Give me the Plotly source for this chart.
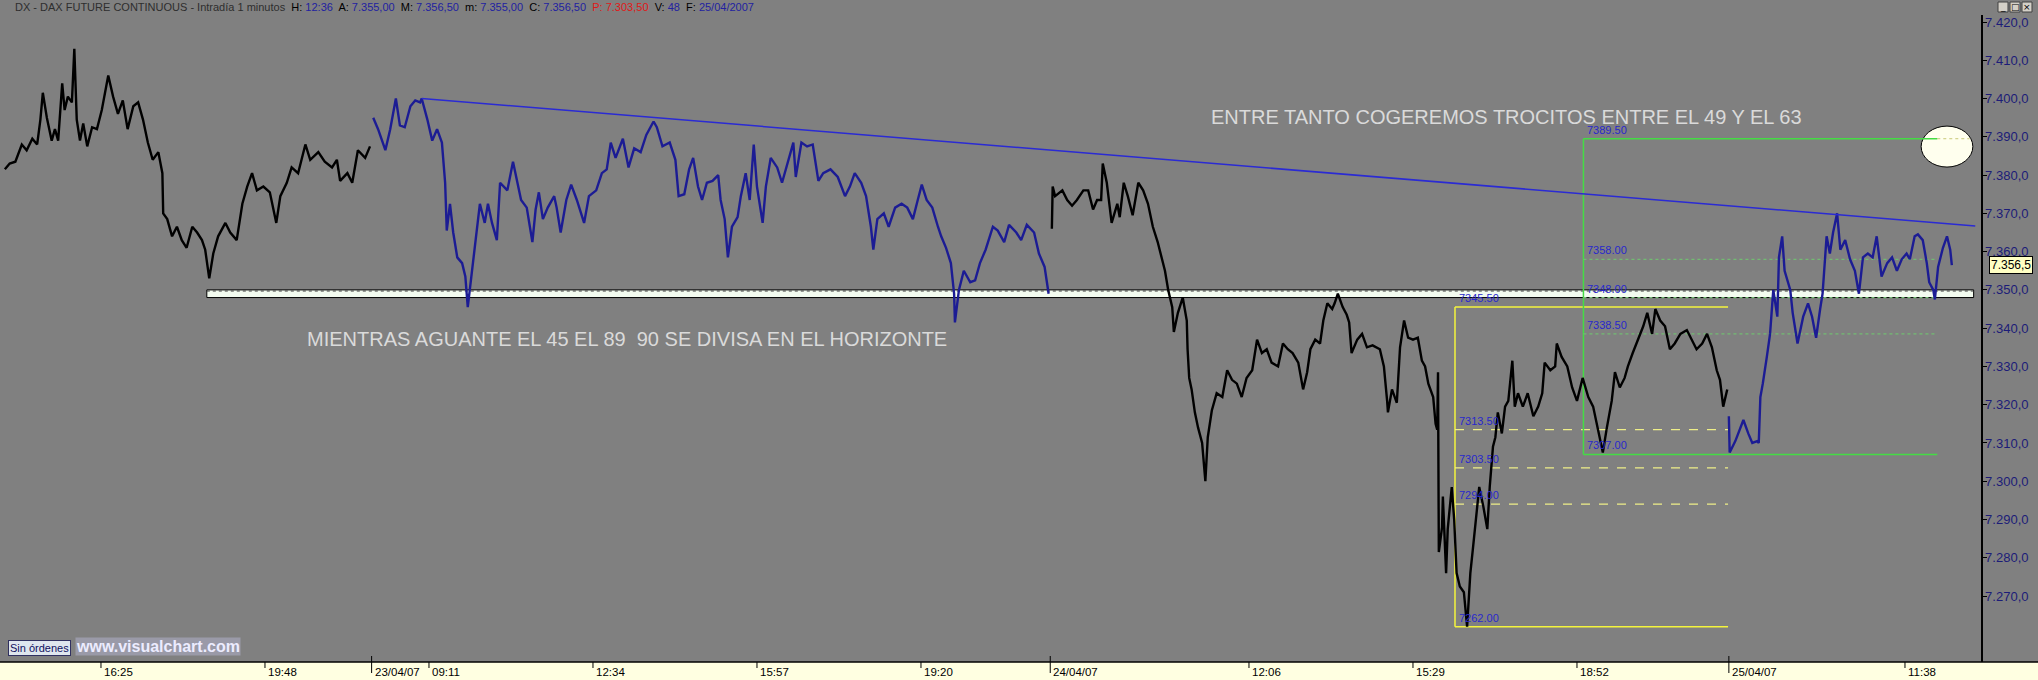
import plotly.graph_objects as go

# ---------------- data ----------------
SESSION_BARS = 840  # one-minute bars per session (08:00-22:00)

# global bar index = session * 840 + minutes since 08:00 (20/04 = session 0)
bars_20apr = [386, 392, 399, 407, 413, 420, 426, 430, 433, 438, 444, 448, 452, 457, 460, 464, 469, 472, 475, 479,
              483, 488, 494, 500, 506, 514, 520, 526, 532, 538, 545, 551, 557, 563, 569, 576, 581, 582, 587, 593,
              599, 605, 611, 618, 624, 630, 634, 639, 644, 650, 659, 665, 673, 680, 686, 692, 698, 706, 714, 722,
              727, 735, 741, 749, 758, 764, 774, 782, 791, 797, 801, 810, 816, 823, 832, 838]
close_20apr = [7381.5, 7383.0, 7383.5, 7388.0, 7386.5, 7389.5, 7388.0, 7394.5, 7401.5, 7395.0, 7389.0, 7392.0,
               7389.0, 7404.0, 7397.0, 7400.5, 7399.0, 7413.0, 7394.5, 7389.0, 7393.5, 7387.5, 7392.5, 7392.0,
               7397.0, 7406.0, 7400.5, 7396.0, 7399.5, 7392.0, 7398.0, 7399.0, 7394.5, 7388.5, 7384.0, 7386.0,
               7380.5, 7370.0, 7368.5, 7364.0, 7366.5, 7363.0, 7361.0, 7366.5, 7365.0, 7363.0, 7360.5, 7353.0,
               7359.5, 7364.0, 7367.5, 7365.0, 7363.0, 7372.5, 7377.0, 7380.5, 7376.0, 7377.0, 7375.5, 7367.5,
               7374.5, 7378.0, 7382.0, 7380.5, 7388.0, 7384.0, 7386.0, 7383.5, 7382.0, 7384.0, 7378.5, 7380.5,
               7378.0, 7386.5, 7384.5, 7387.5]

bars_23apr = [842, 848, 857, 863, 870, 875, 881, 888, 894, 900, 902, 909, 915, 921, 927, 931, 933, 937, 941, 946,
              952, 956, 959, 964, 968, 974, 980, 984, 989, 995, 999, 1008, 1015, 1021, 1025, 1032, 1039, 1043, 1047,
              1052, 1058, 1066, 1069, 1074, 1081, 1087, 1094, 1103, 1109, 1118, 1125, 1131, 1136, 1142, 1151, 1158,
              1165, 1173, 1180, 1189, 1193, 1200, 1209, 1216, 1220, 1227, 1233, 1238, 1244, 1249, 1255, 1262, 1269,
              1272, 1277, 1281, 1286, 1293, 1297, 1303, 1308, 1313, 1317, 1324, 1328, 1334, 1342, 1348, 1355, 1362,
              1365, 1372, 1379, 1386, 1393, 1399, 1408, 1417, 1426, 1432, 1438, 1446, 1452, 1458, 1461, 1466, 1474,
              1480, 1488, 1496, 1503, 1510, 1516, 1521, 1527, 1534, 1541, 1545, 1551, 1557, 1561, 1562, 1567, 1573,
              1581, 1587, 1593, 1600, 1609, 1615, 1623, 1629, 1638, 1644, 1651, 1660, 1666, 1673, 1678]
close_23apr = [7395.0, 7392.0, 7386.5, 7392.0, 7400.0, 7393.0, 7392.5, 7398.0, 7399.5, 7399.0, 7400.0, 7394.5,
               7389.0, 7392.0, 7388.5, 7378.0, 7365.5, 7372.5, 7365.0, 7358.5, 7357.0, 7353.5, 7345.5, 7355.0,
               7361.0, 7372.5, 7367.5, 7372.5, 7367.5, 7363.0, 7378.0, 7376.0, 7383.5, 7377.0, 7373.5, 7371.5,
               7362.5, 7371.0, 7375.5, 7368.5, 7371.5, 7374.5, 7371.5, 7365.0, 7373.5, 7377.5, 7373.5, 7367.5,
               7374.5, 7376.0, 7380.5, 7381.5, 7388.5, 7384.5, 7389.5, 7382.0, 7387.0, 7386.0, 7390.5, 7394.0,
               7392.5, 7387.5, 7388.5, 7384.0, 7374.5, 7375.0, 7381.5, 7384.5, 7377.0, 7373.5, 7378.0, 7378.5,
               7380.0, 7373.5, 7368.5, 7358.5, 7366.5, 7369.0, 7374.5, 7380.5, 7373.5, 7388.0, 7377.0, 7367.5,
               7377.0, 7384.5, 7382.0, 7378.0, 7383.0, 7388.5, 7379.5, 7388.5, 7387.5, 7388.0, 7378.5, 7380.5,
               7381.5, 7379.5, 7374.5, 7377.0, 7380.5, 7378.0, 7374.5, 7366.5, 7360.5, 7368.5, 7370.0, 7366.5,
               7371.5, 7372.5, 7371.5, 7368.5, 7373.5, 7377.5, 7373.5, 7371.5, 7366.5, 7364.0, 7361.0, 7357.0,
               7349.0, 7341.5, 7350.0, 7355.0, 7352.0, 7352.5, 7357.0, 7360.5, 7366.5, 7365.5, 7362.5, 7367.0,
               7365.0, 7363.0, 7367.0, 7365.0, 7359.5, 7356.0, 7349.0]

bars_24apr = [1682, 1683, 1686, 1695, 1701, 1707, 1713, 1721, 1727, 1733, 1738, 1743, 1745, 1750, 1756, 1763, 1766,
              1771, 1776, 1782, 1789, 1795, 1801, 1807, 1813, 1818, 1822, 1826, 1831, 1833, 1838, 1844, 1849, 1850,
              1852, 1855, 1859, 1863, 1868, 1872, 1875, 1880, 1886, 1893, 1899, 1905, 1911, 1917, 1923, 1930, 1936,
              1942, 1948, 1954, 1962, 1968, 1974, 1980, 1987, 1993, 1998, 2002, 2008, 2014, 2018, 2023, 2029, 2032,
              2036, 2042, 2047, 2050, 2053, 2060, 2066, 2072, 2079, 2088, 2093, 2097, 2098, 2103, 2109, 2113, 2118,
              2123, 2129, 2135, 2140, 2144, 2148, 2154, 2157, 2159, 2160, 2161, 2165, 2166, 2170, 2172, 2177, 2180,
              2183, 2187, 2192, 2196, 2200, 2203, 2208, 2211, 2216, 2221, 2224, 2228, 2231, 2234, 2239, 2243, 2247,
              2252, 2255, 2259, 2265, 2271, 2278, 2284, 2289, 2292, 2299, 2305, 2307, 2313, 2320, 2326, 2332, 2336,
              2339, 2346, 2352, 2358, 2364, 2369, 2375, 2379, 2385, 2391, 2395, 2401, 2408, 2414, 2419, 2425, 2429,
              2435, 2441, 2447, 2453, 2460, 2468, 2474, 2480, 2487, 2493, 2499, 2505, 2509, 2513, 2518]
close_24apr = [7366.0, 7377.0, 7374.5, 7376.0, 7373.5, 7372.0, 7373.5, 7376.0, 7376.0, 7371.0, 7373.5, 7373.5,
               7383.0, 7378.0, 7367.5, 7372.5, 7369.0, 7378.0, 7374.5, 7369.5, 7378.0, 7376.0, 7372.5, 7366.5,
               7362.5, 7358.5, 7355.0, 7350.0, 7345.5, 7339.0, 7344.0, 7348.0, 7342.0, 7334.5, 7327.0, 7324.0,
               7318.0, 7314.0, 7310.0, 7300.0, 7311.5, 7318.5, 7323.0, 7322.0, 7329.0, 7326.5, 7325.5, 7322.0,
               7327.0, 7329.0, 7337.0, 7333.5, 7334.5, 7331.0, 7330.0, 7336.0, 7334.5, 7333.5, 7331.0, 7324.0,
               7328.5, 7334.5, 7337.0, 7336.0, 7342.0, 7346.5, 7345.0, 7346.5, 7349.0, 7345.5, 7343.5, 7341.5,
               7333.5, 7337.0, 7338.5, 7335.0, 7335.5, 7334.5, 7330.0, 7321.0, 7318.0, 7324.0, 7320.5, 7335.0,
               7342.0, 7337.5, 7337.0, 7337.5, 7331.5, 7330.0, 7325.5, 7322.0, 7315.0, 7313.5, 7328.5, 7281.5,
               7288.0, 7296.0, 7276.0, 7287.5, 7298.5, 7290.0, 7276.0, 7272.5, 7271.0, 7262.0, 7276.0, 7282.0,
               7292.5, 7298.5, 7293.5, 7287.5, 7298.5, 7309.0, 7311.5, 7318.0, 7312.5, 7319.5, 7321.0, 7331.5,
               7319.5, 7323.0, 7319.5, 7323.0, 7317.0, 7319.5, 7323.0, 7331.0, 7329.0, 7330.0, 7336.0, 7332.5,
               7330.0, 7324.5, 7321.0, 7324.5, 7327.0, 7322.0, 7319.5, 7313.5, 7307.5, 7314.0, 7321.0, 7328.5,
               7324.5, 7327.0, 7330.0, 7333.5, 7337.5, 7340.5, 7344.0, 7338.5, 7345.0, 7342.0, 7340.5, 7334.5,
               7336.0, 7338.5, 7339.5, 7337.0, 7334.5, 7336.0, 7338.5, 7335.0, 7329.0, 7326.5, 7319.5, 7324.0]

bars_25apr = [2520, 2521, 2528, 2534, 2538, 2544, 2549, 2555, 2557, 2559, 2562, 2567, 2571, 2575, 2580, 2582, 2586,
              2589, 2596, 2599, 2605, 2612, 2618, 2623, 2628, 2633, 2636, 2641, 2645, 2649, 2654, 2658, 2664, 2670,
              2676, 2681, 2686, 2692, 2698, 2703, 2709, 2716, 2722, 2728, 2734, 2740, 2744, 2750, 2754, 2760, 2765,
              2768, 2773, 2775, 2779, 2785, 2790, 2794, 2796]
close_25apr = [7317.0, 7307.5, 7310.5, 7313.5, 7316.0, 7312.5, 7310.0, 7310.5, 7310.0, 7322.0, 7325.5, 7332.5,
               7338.5, 7350.0, 7343.0, 7358.5, 7364.0, 7355.0, 7350.0, 7344.0, 7336.0, 7343.0, 7346.5, 7343.0,
               7337.5, 7345.0, 7349.0, 7364.0, 7359.5, 7365.0, 7370.0, 7360.5, 7363.0, 7358.0, 7355.0, 7349.0,
               7358.5, 7359.5, 7358.5, 7364.0, 7353.5, 7357.0, 7358.5, 7355.0, 7358.0, 7359.5, 7358.0, 7364.0,
               7364.5, 7363.0, 7357.0, 7352.0, 7350.0, 7347.5, 7356.0, 7361.0, 7364.0, 7360.5, 7356.5]

session_colors = ["#000000", "#1c1c94", "#000000", "#1c1c94"]

# time axis
tick_days = [0, 0, 1, 1, 1, 1, 1, 2, 2, 2, 2, 3, 3]
tick_times = ["16:25", "19:48", "08:00", "09:11", "12:34", "15:57", "19:20", "08:00", "12:06", "15:29",
              "18:52", "08:00", "11:38"]
tick_labels = ["16:25", "19:48", "23/04/07", "09:11", "12:34", "15:57", "19:20", "24/04/07", "12:06", "15:29",
               "18:52", "25/04/07", "11:38"]

# price axis
price_ticks = [7270, 7280, 7290, 7300, 7310, 7320, 7330, 7340, 7350, 7360, 7370, 7380, 7390, 7400, 7410, 7420]
last_price = 7356.5

# drawn objects (prices / bars)
trend_bars = [902, 2825]
trend_prices = [7400.0, 7366.7]
band_bars = [636, 2823]
band_prices = [7348.0, 7350.0]
fib_yellow_bars = [2181, 2519]
fib_yellow_levels = [7345.5, 7313.5, 7303.5, 7294.0, 7262.0]
fib_green_bars = [2340, 2778]
fib_green_levels = [7389.5, 7358.0, 7348.0, 7338.5, 7307.0]

header_html = ('<span style="color:#2e2e2e">DX - DAX FUTURE CONTINUOUS - Intradía 1 minutos</span>'
               '  H: <span style="color:#2222a0">12:36</span>'
               '  A: <span style="color:#2222a0">7.355,00</span>'
               '  M: <span style="color:#2222a0">7.356,50</span>'
               '  m: <span style="color:#2222a0">7.355,00</span>'
               '  C: <span style="color:#2222a0">7.356,50</span>'
               '  <span style="color:#e01818">P: 7.303,50</span>'
               '  V: <span style="color:#2222a0">48</span>'
               '  F: <span style="color:#2222a0">25/04/2007</span>')
text_left = "MIENTRAS AGUANTE EL 45 EL 89  90 SE DIVISA EN EL HORIZONTE"
text_right = "ENTRE TANTO COGEREMOS TROCITOS ENTRE EL 49 Y EL 63"

# ---------------- layout geometry ----------------
W, H = 2038, 680
ML, MR, MT, MB = 0, 57, 15, 18
PW, PH = W - ML - MR, H - MT - MB
X_RANGE = [380, 2832.1]
Y_RANGE = [7252.77, 7421.83]
GRAY = "#808080"
SANS = "Liberation Sans, Arial, sans-serif"


def bar_index(day, hhmm):
    h, m = map(int, hhmm.split(":"))
    return day * SESSION_BARS + (h - 8) * 60 + m


def paper_x(xp):
    return (xp - ML) / PW


def paper_y(yp):
    return (H - MB - yp) / PH


fig = go.Figure()

for (b, c), col in zip([(bars_20apr, close_20apr), (bars_23apr, close_23apr),
                        (bars_24apr, close_24apr), (bars_25apr, close_25apr)], session_colors):
    assert len(b) == len(c)
    fig.add_trace(go.Scatter(x=b, y=c, mode="lines", line=dict(color=col, width=2.4),
                             hoverinfo="skip", showlegend=False))

fig.add_trace(go.Scatter(x=trend_bars, y=trend_prices, mode="lines",
                         line=dict(color="#2a2ad4", width=1.5), hoverinfo="skip", showlegend=False))

shapes = []
annotations = []

# bottom time strip
shapes.append(dict(type="rect", xref="paper", yref="paper", x0=-0.01, x1=paper_x(W) + 0.01,
                   y0=paper_y(H) - 0.01, y1=0, fillcolor="#ffffe1", line=dict(width=0), layer="below"))
shapes.append(dict(type="line", xref="paper", yref="paper", x0=0, x1=paper_x(W), y0=0, y1=0,
                   line=dict(color="#000000", width=1.5), layer="above"))

# support band
shapes.append(dict(type="rect", xref="x", yref="y", x0=band_bars[0], x1=band_bars[1],
                   y0=band_prices[0], y1=band_prices[1], fillcolor="#f2fbef",
                   line=dict(color="#000000", width=1), layer="below"))
shapes.append(dict(type="line", xref="x", yref="y", x0=band_bars[0], x1=band_bars[1],
                   y0=band_prices[1] - 0.3, y1=band_prices[1] - 0.3,
                   line=dict(color="#404040", width=1, dash="dot"), layer="below"))

# ellipse (drawn before the green box)
shapes.append(dict(type="circle", xref="x", yref="y", x0=2758, x1=2822, y0=7382.1, y1=7392.8,
                   fillcolor="#ffffee", line=dict(color="#000000", width=1), layer="below"))
shapes.append(dict(type="line", xref="x", yref="y", x0=fib_green_bars[1], x1=2818,
                   y0=fib_green_levels[0], y1=fib_green_levels[0],
                   line=dict(color="#c8c878", width=1, dash="dot"), layer="below"))


def fib_box(bars, levels, solid, dashed, dash):
    top, bottom = max(levels), min(levels)
    shapes.append(dict(type="line", xref="x", yref="y", x0=bars[0], x1=bars[0], y0=bottom, y1=top,
                       line=dict(color=solid, width=1.5), layer="below"))
    for i, lv in enumerate(levels):
        edge = i == 0 or i == len(levels) - 1
        shapes.append(dict(type="line", xref="x", yref="y", x0=bars[0], x1=bars[1], y0=lv, y1=lv,
                           line=dict(color=solid if edge else dashed, width=1.5 if edge else 1.2,
                                     dash="solid" if edge else dash), layer="below"))
        annotations.append(dict(x=bars[0], y=lv, xref="x", yref="y", xanchor="left", yanchor="bottom",
                                xshift=2, yshift=1, showarrow=False, text=f"{lv:.2f}",
                                font=dict(family=SANS, size=11, color="#2828cc")))


fib_box(fib_yellow_bars, fib_yellow_levels, "#f4f43c", "#eeee88", "dash")
fib_box(fib_green_bars, fib_green_levels, "#44dc44", "#72bc72", "dot")

# time ticks and labels
for d, t, lab in zip(tick_days, tick_times, tick_labels):
    xb = bar_index(d, t)
    is_date = "/" in lab
    shapes.append(dict(type="line", xref="x", yref="paper", x0=xb, x1=xb,
                       y0=paper_y(656 if is_date else 662), y1=paper_y(673 if is_date else 668),
                       line=dict(color="#000000", width=1), layer="above"))
    annotations.append(dict(x=xb, y=paper_y(672), xref="x", yref="paper", xanchor="left", yanchor="middle",
                            xshift=1, showarrow=False, text=lab,
                            font=dict(family=SANS, size=11.5, color="#000000")))

# header
annotations.append(dict(x=paper_x(13), y=paper_y(7), xref="paper", yref="paper", xanchor="left",
                        yanchor="middle", showarrow=False, text=header_html,
                        font=dict(family=SANS, size=11, color="#000000")))

# big comments
annotations.append(dict(x=757, y=7337.2, xref="x", yref="y", xanchor="left", yanchor="middle",
                        showarrow=False, text=text_left,
                        font=dict(family=SANS, size=20, color="#dadada")))
annotations.append(dict(x=1876, y=7394.1, xref="x", yref="y", xanchor="left", yanchor="middle",
                        yshift=4, showarrow=False, text=text_right,
                        font=dict(family=SANS, size=20, color="#dadada")))

# last price box
annotations.append(dict(x=paper_x(1989), y=last_price, xref="paper", yref="y", xanchor="left",
                        yanchor="middle", showarrow=False, text="7.356,5", bgcolor="#ffffc4",
                        bordercolor="#000000", borderwidth=1, borderpad=1,
                        font=dict(family=SANS, size=12, color="#000000")))

# bottom-left widgets
annotations.append(dict(x=paper_x(8), y=paper_y(647.5), xref="paper", yref="paper", xanchor="left",
                        yanchor="middle", showarrow=False, text="Sin órdenes", bgcolor="#dfe6ee",
                        bordercolor="#303060", borderwidth=1, borderpad=1,
                        font=dict(family=SANS, size=11, color="#101060")))
annotations.append(dict(x=paper_x(75), y=paper_y(646.5), xref="paper", yref="paper", xanchor="left",
                        yanchor="middle", showarrow=False, text="<b>www.visualchart.com</b>",
                        bgcolor="#9a9aa8", borderpad=0,
                        font=dict(family=SANS, size=16, color="#ececff")))

# window buttons
for i, sym in enumerate(["_", "□", "×"]):
    x0 = 1998 + i * 12
    shapes.append(dict(type="rect", xref="paper", yref="paper", x0=paper_x(x0), x1=paper_x(x0 + 10),
                       y0=paper_y(12), y1=paper_y(2), fillcolor="#d4d0c8",
                       line=dict(color="#404040", width=1), layer="above"))
    annotations.append(dict(x=paper_x(x0 + 5), y=paper_y(7), xref="paper", yref="paper",
                            xanchor="center", yanchor="middle", showarrow=False, text=sym,
                            font=dict(family="DejaVu Sans", size=9, color="#000000")))

fig.update_layout(
    width=W, height=H, autosize=False,
    margin=dict(l=ML, r=MR, t=MT, b=MB, pad=0),
    paper_bgcolor=GRAY, plot_bgcolor=GRAY,
    separators=",.",
    showlegend=False,
    shapes=shapes, annotations=annotations,
    xaxis=dict(range=X_RANGE, showgrid=False, zeroline=False, showticklabels=False, ticks="",
               showline=False, fixedrange=True),
    yaxis=dict(range=Y_RANGE, side="right", showgrid=False, zeroline=False, tickvals=price_ticks,
               tickformat=",.1f", ticks="outside", ticklen=4, tickcolor="#000000", tickwidth=1,
               showline=True, linecolor="#000000", linewidth=1.5, automargin=False,
               ticklabelstandoff=-4, fixedrange=True,
               tickfont=dict(family=SANS, size=13, color="#1c1c78")),
)

fig.write_html("out.html", config={"displayModeBar": False, "staticPlot": True},
               post_script="document.body.style.margin='0px';")
